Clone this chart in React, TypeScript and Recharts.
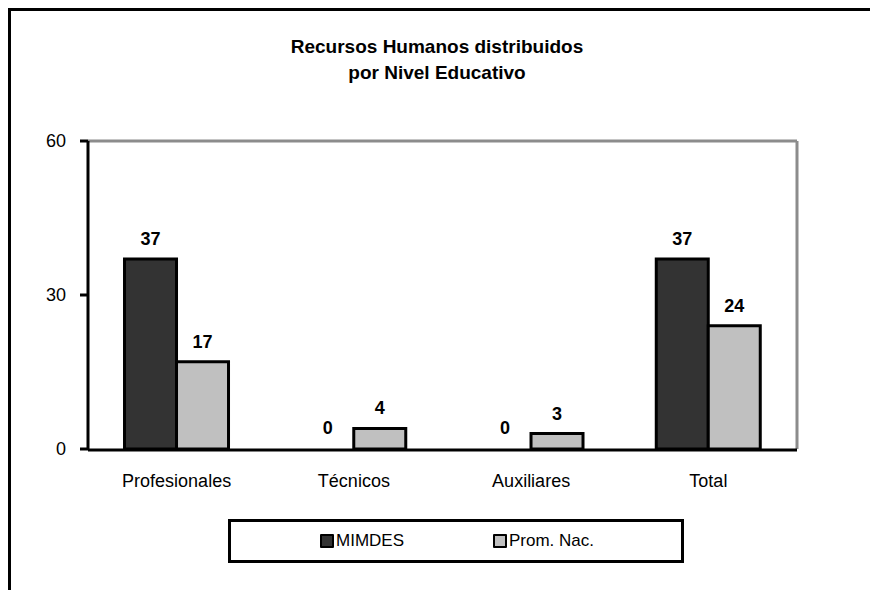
import { BarChart, Bar, XAxis, YAxis, LabelList, Legend, Rectangle } from "recharts";

const CATEGORIES = ["Profesionales", "Técnicos", "Auxiliares", "Total"];
const MIMDES = [37, 0, 0, 37];
const PROM_NAC = [17, 4, 3, 24];
const Y_TICKS = [0, 30, 60];
const EDGE_TICKS = [0, 1, 2, 3, 4];

const SERIES = [
  { key: "mimdes", name: "MIMDES", color: "#333333" },
  { key: "prom", name: "Prom. Nac.", color: "#c0c0c0" },
];

const data = CATEGORIES.map((name, i) => ({
  name,
  mimdes: MIMDES[i],
  prom: PROM_NAC[i],
}));

const FONT = '"Liberation Sans Narrow", "Arial Narrow", "Liberation Sans", sans-serif';

// zero values keep their label but draw no box
const BarShape = (props: any) => (props.height <= 1 ? <g /> : <Rectangle {...props} />);

const renderLegend = (props: any) => (
  <div
    style={{
      boxSizing: "border-box",
      width: 456,
      height: 44,
      border: "3px solid #000",
      display: "flex",
      alignItems: "center",
      fontFamily: FONT,
      fontSize: 17,
      color: "#000",
    }}
  >
    {(props.payload || []).map((p: any, i: number) => (
      <div
        key={p.value}
        style={{
          display: "flex",
          alignItems: "center",
          marginLeft: i === 0 ? 89 : 0,
          width: i === 0 ? 173 : "auto",
        }}
      >
        <span
          style={{
            display: "inline-block",
            width: 10,
            height: 10,
            border: "2px solid #000",
            borderRadius: 1,
            background: p.color,
            marginRight: 2,
          }}
        />
        <span>{p.value}</span>
      </div>
    ))}
  </div>
);

export default function App() {
  return (
    <div
      style={{
        position: "absolute",
        left: 0,
        top: 0,
        width: 870,
        height: 590,
        background: "#fff",
        overflow: "hidden",
        fontFamily: FONT,
      }}
    >
      <div
        style={{
          position: "absolute",
          left: 8,
          top: 8,
          width: 870,
          height: 600,
          borderTop: "3px solid #000",
          borderLeft: "3px solid #000",
        }}
      />
      <div
        style={{
          position: "absolute",
          left: 237,
          top: 34,
          width: 400,
          textAlign: "center",
          fontSize: 19,
          fontWeight: "bold",
          lineHeight: "26px",
          color: "#000",
        }}
      >
        Recursos Humanos distribuidos
        <br />
        por Nivel Educativo
      </div>
      <BarChart
        width={870}
        height={590}
        data={data}
        margin={{ top: 140, right: 72, bottom: 139, left: 28 }}
        barCategoryGap="20.6%"
        barGap={0}
        style={{ position: "absolute", left: 0, top: 0 }}
      >
        <XAxis
          xAxisId="top"
          orientation="top"
          dataKey="name"
          height={1}
          tick={false}
          tickLine={false}
          axisLine={{ stroke: "#8c8c8c", strokeWidth: 3 }}
        />
        <YAxis
          yAxisId="right"
          orientation="right"
          width={1}
          domain={[0, 60]}
          ticks={Y_TICKS}
          tick={false}
          tickLine={false}
          axisLine={{ stroke: "#8c8c8c", strokeWidth: 3 }}
        />
        <XAxis
          xAxisId="cat"
          dataKey="name"
          height={1}
          interval={0}
          tickSize={0}
          tickMargin={25}
          axisLine={false}
          tickLine={false}
          tick={{ fill: "#000", fontSize: 18, fontFamily: FONT }}
        />
        <XAxis
          xAxisId="edges"
          type="number"
          domain={[0, 4]}
          ticks={EDGE_TICKS}
          height={1}
          tick={false}
          tickSize={8}
          tickLine={{ stroke: "#000", strokeWidth: 3 }}
          axisLine={{ stroke: "#000", strokeWidth: 3 }}
          allowDataOverflow
        />
        <YAxis
          yAxisId="left"
          width={60}
          domain={[0, 60]}
          ticks={Y_TICKS}
          tickSize={8}
          tickMargin={14}
          tickLine={{ stroke: "#000", strokeWidth: 3 }}
          axisLine={{ stroke: "#000", strokeWidth: 3 }}
          tick={{ fill: "#000", fontSize: 18, fontFamily: FONT }}
        />
        <Legend
          content={renderLegend}
          layout="horizontal"
          verticalAlign="middle"
          align="center"
          wrapperStyle={{ left: 228, top: 519, bottom: "auto", right: "auto", width: 456, height: 44 }}
        />
        {SERIES.map((s) => (
          <Bar
            key={s.key}
            dataKey={s.key}
            name={s.name}
            xAxisId="cat"
            yAxisId="left"
            fill={s.color}
            stroke="#000"
            strokeWidth={3}
            minPointSize={1}
            shape={BarShape}
            isAnimationActive={false}
          >
            <LabelList
              dataKey={s.key}
              position="top"
              offset={14}
              style={{ fill: "#000", fontSize: 18, fontWeight: "bold", fontFamily: FONT }}
            />
          </Bar>
        ))}
      </BarChart>
    </div>
  );
}
